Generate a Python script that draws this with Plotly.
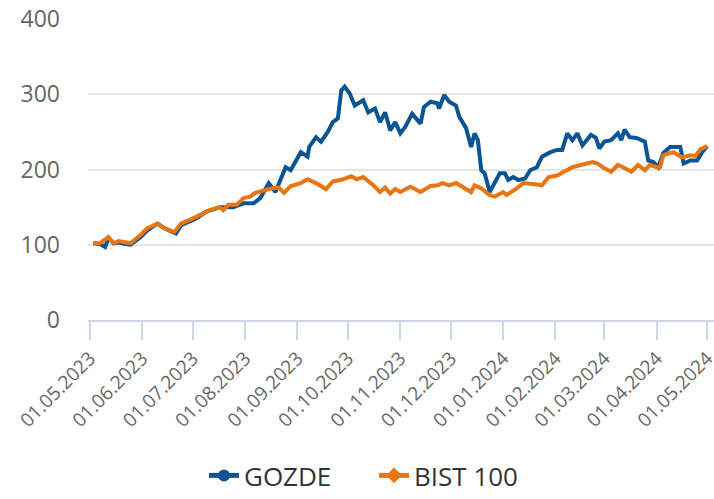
import plotly.graph_objects as go

gozde_dates = [
    "2023-05-03", "2023-05-07", "2023-05-10", "2023-05-12", "2023-05-15", "2023-05-18", "2023-05-22",
    "2023-05-25", "2023-05-31", "2023-06-04", "2023-06-10", "2023-06-15", "2023-06-21", "2023-06-24",
    "2023-07-03", "2023-07-09", "2023-07-17", "2023-07-25", "2023-07-31", "2023-08-06", "2023-08-10",
    "2023-08-15", "2023-08-19", "2023-08-25", "2023-08-28", "2023-09-03", "2023-09-07", "2023-09-08",
    "2023-09-12", "2023-09-15", "2023-09-19", "2023-09-22", "2023-09-25", "2023-09-27", "2023-09-29",
    "2023-10-02", "2023-10-05", "2023-10-10", "2023-10-13", "2023-10-17", "2023-10-20", "2023-10-23",
    "2023-10-26", "2023-10-29", "2023-11-01", "2023-11-04", "2023-11-08", "2023-11-13", "2023-11-15",
    "2023-11-19", "2023-11-23", "2023-11-24", "2023-11-27", "2023-11-30", "2023-12-04", "2023-12-06",
    "2023-12-10", "2023-12-13", "2023-12-15", "2023-12-17", "2023-12-19", "2023-12-21", "2023-12-24",
    "2023-12-27", "2023-12-30", "2024-01-02", "2024-01-04", "2024-01-07", "2024-01-10", "2024-01-14",
    "2024-01-17", "2024-01-21", "2024-01-24", "2024-01-29", "2024-02-02", "2024-02-05", "2024-02-08",
    "2024-02-11", "2024-02-14", "2024-02-17", "2024-02-22", "2024-02-25", "2024-02-27", "2024-03-01",
    "2024-03-05", "2024-03-09", "2024-03-11", "2024-03-13", "2024-03-16", "2024-03-20", "2024-03-25",
    "2024-03-27", "2024-03-30", "2024-04-02", "2024-04-05", "2024-04-09", "2024-04-15", "2024-04-17",
    "2024-04-21", "2024-04-25", "2024-04-28", "2024-05-01",
]
gozde_values = [
    102, 101, 97, 109, 102, 103, 101,
    100, 110, 119, 128, 121, 115, 126,
    135, 144, 150, 150, 155, 155, 162,
    182, 170, 203, 199, 223, 217, 230,
    243, 237, 250, 263, 268, 305, 310,
    301, 285, 292, 276, 281, 263, 276,
    252, 263, 248, 257, 274, 261, 283,
    290, 288, 281, 299, 290, 285, 270,
    255, 230, 248, 239, 199, 195, 170,
    182, 195, 195, 186, 190, 186, 188,
    199, 203, 217, 223, 226, 226, 248,
    239, 248, 232, 246, 242, 228, 237,
    239, 248, 239, 253, 243, 242, 237,
    212, 210, 203, 222, 230, 230, 208,
    212, 212, 223, 231,
]

bist_dates = [
    "2023-05-03", "2023-05-07", "2023-05-12", "2023-05-15", "2023-05-18", "2023-05-25", "2023-05-31",
    "2023-06-04", "2023-06-10", "2023-06-14", "2023-06-20", "2023-06-24", "2023-07-03", "2023-07-11",
    "2023-07-17", "2023-07-19", "2023-07-22", "2023-07-27", "2023-07-31", "2023-08-04", "2023-08-07",
    "2023-08-12", "2023-08-17", "2023-08-21", "2023-08-24", "2023-08-28", "2023-09-03", "2023-09-07",
    "2023-09-12", "2023-09-18", "2023-09-22", "2023-09-28", "2023-10-03", "2023-10-06", "2023-10-10",
    "2023-10-16", "2023-10-20", "2023-10-23", "2023-10-26", "2023-10-29", "2023-11-01", "2023-11-07",
    "2023-11-13", "2023-11-19", "2023-11-23", "2023-11-26", "2023-11-30", "2023-12-04", "2023-12-08",
    "2023-12-13", "2023-12-15", "2023-12-19", "2023-12-24", "2023-12-27", "2024-01-01", "2024-01-03",
    "2024-01-09", "2024-01-13", "2024-01-21", "2024-01-24", "2024-01-28", "2024-02-02", "2024-02-06",
    "2024-02-11", "2024-02-16", "2024-02-20", "2024-02-23", "2024-02-26", "2024-02-29", "2024-03-05",
    "2024-03-09", "2024-03-13", "2024-03-17", "2024-03-21", "2024-03-25", "2024-03-28", "2024-04-01",
    "2024-04-03", "2024-04-05", "2024-04-11", "2024-04-16", "2024-04-21", "2024-04-24", "2024-04-27",
    "2024-05-01",
]
bist_values = [
    102, 102, 110, 102, 105, 102, 113,
    122, 128, 122, 117, 128, 137, 146,
    150, 146, 153, 153, 162, 164, 169,
    172, 175, 176, 169, 178, 182, 187,
    182, 174, 184, 187, 191, 187, 190,
    179, 170, 176, 168, 174, 170, 177,
    170, 178, 179, 182, 179, 182, 177,
    170, 179, 175, 166, 164, 170, 166,
    175, 182, 180, 179, 190, 192, 197,
    203, 206, 208, 210, 208, 203, 197,
    206, 202, 197, 206, 199, 206, 203,
    203, 219, 223, 216, 219, 218, 227,
    231,
]

x_tick_values = ["2023-05-01", "2023-06-01", "2023-07-01", "2023-08-01", "2023-09-01", "2023-10-01",
                 "2023-11-01", "2023-12-01", "2024-01-01", "2024-02-01", "2024-03-01", "2024-04-01",
                 "2024-05-01"]
x_tick_labels = ["01.05.2023", "01.06.2023", "01.07.2023", "01.08.2023", "01.09.2023", "01.10.2023",
                 "01.11.2023", "01.12.2023", "01.01.2024", "01.02.2024", "01.03.2024", "01.04.2024",
                 "01.05.2024"]
y_tick_values = [0, 100, 200, 300, 400]

BLUE = "#0b5596"
ORANGE = "#ea7513"
FONT = "Open Sans"

fig = go.Figure()
fig.add_trace(go.Scatter(x=gozde_dates, y=gozde_values, mode="lines", name="GOZDE",
                         line=dict(color=BLUE, width=4), showlegend=False))
fig.add_trace(go.Scatter(x=bist_dates, y=bist_values, mode="lines", name="BIST 100",
                         line=dict(color=ORANGE, width=4), showlegend=False))
# legend entries
fig.add_trace(go.Scatter(x=[None], y=[None], mode="lines+markers", name="GOZDE",
                         line=dict(color=BLUE, width=4),
                         marker=dict(symbol="circle", size=12, color=BLUE)))
fig.add_trace(go.Scatter(x=[None], y=[None], mode="lines+markers", name="BIST 100",
                         line=dict(color=ORANGE, width=4),
                         marker=dict(symbol="diamond", size=13, color=ORANGE)))

fig.update_layout(
    width=714, height=499,
    margin=dict(l=88, r=0, t=19, b=171),
    paper_bgcolor="white", plot_bgcolor="white",
    font=dict(family=FONT, color="#666666"),
    showlegend=True,
    legend=dict(orientation="h", x=0.1853, xanchor="left", y=-0.518, yanchor="middle",
                font=dict(size=26, color="#333333", family=FONT),
                entrywidth=125, entrywidthmode="pixels",
                itemsizing="constant", tracegroupgap=0),
)
fig.update_xaxes(
    type="date", automargin=False,
    range=["2023-04-29 20:00", "2024-05-05"],
    tickmode="array", tickvals=x_tick_values, ticktext=x_tick_labels,
    tickangle=-45, tickfont=dict(size=19, color="#666666", family=FONT),
    showline=True, linecolor="#ccd6eb", linewidth=1.5,
    ticks="outside", ticklen=18, tickcolor="#ccd6eb", tickwidth=1.5,
    showgrid=False, zeroline=False, ticklabeloverflow="allow",
)
fig.update_yaxes(
    automargin=False,
    range=[0, 400], tickmode="array", tickvals=y_tick_values,
    tickfont=dict(size=23, color="#666666", family=FONT),
    showgrid=True, gridcolor="#e6e6e6", gridwidth=1.5,
    zeroline=False, showline=False, ticks="", ticklabelstandoff=27,
    ticklabeloverflow="allow",
)

fig.write_html(
    "out.html",
    config={"displayModeBar": False},
    post_script=(
        "var h=document.documentElement, b=document.body;"
        "h.style.margin='0';h.style.padding='0';h.style.overflow='hidden';h.style.height='499px';"
        "b.style.margin='0';b.style.padding='0';b.style.overflow='hidden';b.style.height='499px';"
    ),
)
